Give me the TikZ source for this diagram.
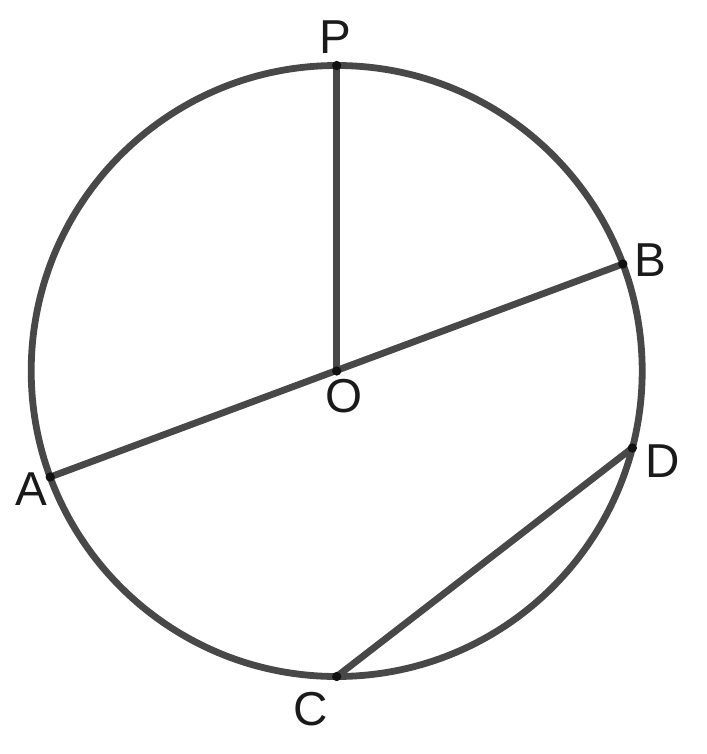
\documentclass[tikz,border=0pt]{standalone}
\usepackage{fontspec}
\setmainfont{Liberation Sans}
\usetikzlibrary{calc}
\newcommand\radiusCirc{305.5}
\newcommand\dotRad{4.2}
\newcommand\centerX{336.7}
\newcommand\centerY{371}
\definecolor{lineGray}{HTML}{484848}
\definecolor{dotBlack}{HTML}{111111}
\definecolor{textBlack}{HTML}{1A1A1A}

\begin{document}
\begin{tikzpicture}[x=0.5pt,y=-0.5pt,
    thickline/.style={color=lineGray, line width=3.4pt},
    ptlabel/.style={text=textBlack, inner sep=0pt, font=\fontsize{23.8}{28}\selectfont}]
    \useasboundingbox (0,0) rectangle (706,754);

    % the circle and its points (y grows downwards, so angles turn clockwise)
    \coordinate (O) at (\centerX,\centerY);
    \draw[thickline] (O) circle (\radiusCirc);
    \foreach \Pname/\Pangle in {P/-90, B/-20.5, A/159.7, D/14.6, C/90}{
      \coordinate (\Pname) at ($(O)+(\Pangle:\radiusCirc)$);
    }

    % segments
    \draw[thickline] (O) -- (P);
    \draw[thickline] (A) -- (B);
    \draw[thickline] (C) -- (D);

    % dots
    \foreach \Pname in {O,P,A,B,C,D}{
      \filldraw[dotBlack] (\Pname) circle (\dotRad);
    }

    % labels
    \node[ptlabel] (labelP) at (335,37) {P};
    \node[ptlabel] (labelB) at (650,260) {B};
    \node[ptlabel] (labelO) at (344,396) {O};
    \node[ptlabel] (labelA) at (31,489) {A};
    \node[ptlabel] (labelD) at (663,461) {D};
    \node[ptlabel] (labelC) at (310.5,709) {C};
\end{tikzpicture}
\end{document}
